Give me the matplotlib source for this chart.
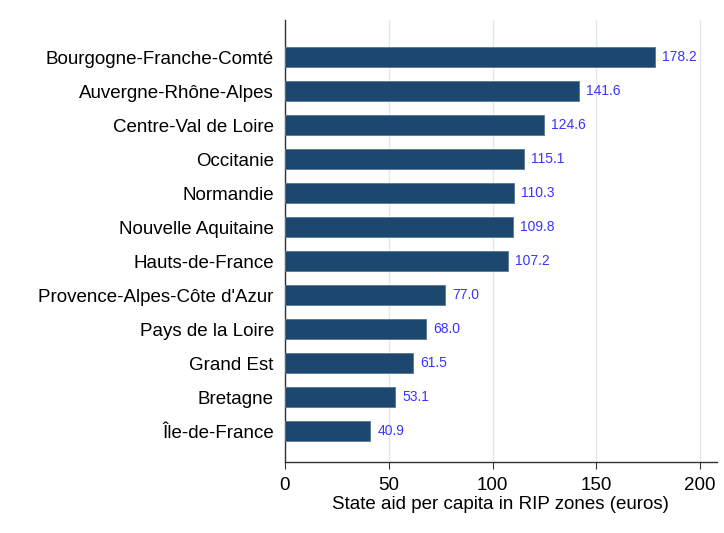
import matplotlib.pyplot as plt

plt.rcParams['font.family'] = ['Liberation Sans', 'DejaVu Sans']

regions = ["Bourgogne-Franche-Comté", "Auvergne-Rhône-Alpes", "Centre-Val de Loire",
           "Occitanie", "Normandie", "Nouvelle Aquitaine", "Hauts-de-France",
           "Provence-Alpes-Côte d'Azur", "Pays de la Loire", "Grand Est",
           "Bretagne", "Île-de-France"]
aid = [178.2, 141.6, 124.6, 115.1, 110.3, 109.8, 107.2, 77.0, 68.0, 61.5, 53.1, 40.9]
xticks = [0, 50, 100, 150, 200]

fig = plt.figure(figsize=(7.24, 5.33), dpi=100)
ax = fig.add_axes([0.3936, 0.1332, 0.5964, 0.8293])

ypos = list(range(len(regions)))
ax.barh(ypos, aid, height=0.6, color='#1c4870', edgecolor='#5a7590', linewidth=0.6, zorder=3)
for y, v in zip(ypos, aid):
    ax.text(v + 3.5, y, f"{v:.1f}", va='center', ha='left', color='#3a33ff', fontsize=10)

ax.set_ylim(len(regions) - 1 + 0.91, -1.09)
ax.set_xlim(0, 208)
ax.set_yticks(ypos)
ax.set_yticklabels(regions, fontsize=13.5)
ax.tick_params(axis='y', length=0, pad=8)
ax.set_xticks(xticks)
ax.set_xticklabels([str(t) for t in xticks], fontsize=13.5)
ax.tick_params(axis='x', length=5, color='#333333', pad=6)
ax.set_xlabel("State aid per capita in RIP zones (euros)", fontsize=13.5, labelpad=1)
ax.grid(axis='x', color='#e1e8ee', linewidth=1, zorder=0)

for side in ['top', 'right']:
    ax.spines[side].set_visible(False)
for side in ['left', 'bottom']:
    ax.spines[side].set_color('#333333')
    ax.spines[side].set_linewidth(1)

fig.savefig('out.png', dpi=100)
